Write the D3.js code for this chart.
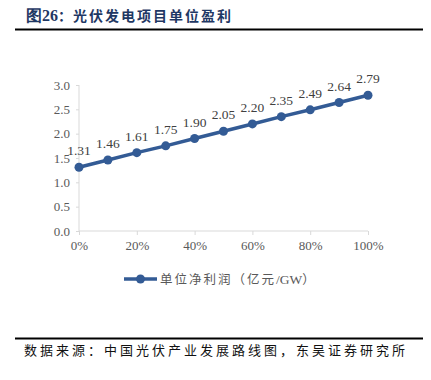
<!DOCTYPE html>
<html>
<head>
<meta charset="utf-8">
<script src="https://cdn.jsdelivr.net/npm/d3@7"></script>
<style>
  body { margin: 0; background: #fff; }
  svg { display: block; }
</style>
</head>
<body>
<div id="chart"></div>
<script>
// data
const shares = [0, 0.1, 0.2, 0.3, 0.4, 0.5, 0.6, 0.7, 0.8, 0.9, 1.0];
const profit = [1.31, 1.46, 1.61, 1.75, 1.90, 2.05, 2.20, 2.35, 2.49, 2.64, 2.79];
const yTicks = [0, 0.5, 1.0, 1.5, 2.0, 2.5, 3.0];
const xTicks = [0, 0.2, 0.4, 0.6, 0.8, 1.0];
const seriesName = '单位净利润（亿元/GW）';
const titleText = '图26：光伏发电项目单位盈利';
const sourceText = '数据来源：中国光伏产业发展路线图，东吴证券研究所';

const W = 431, H = 380;
const colour = '#335b95';
const serif = '"Liberation Serif", "Times New Roman", serif';
const cjk = '"Noto Sans CJK SC", sans-serif';

const svg = d3.select('#chart').append('svg')
    .attr('width', W)
    .attr('height', H);

// title + rules
const title = svg.append('text')
    .attr('x', 26)
    .attr('y', 21)
    .attr('font-weight', 'bold')
    .attr('fill', '#1f3864');
title.append('tspan')
    .attr('font-family', serif)
    .attr('font-size', '16px')
    .text(titleText.slice(0, 3));
title.append('tspan')
    .attr('font-family', cjk)
    .attr('font-size', '14px')
    .text(titleText.slice(3, 4));
title.append('tspan')
    .attr('x', 73)
    .attr('font-family', cjk)
    .attr('font-size', '14px')
    .attr('letter-spacing', '2px')
    .text(titleText.slice(4));

svg.append('line')
    .attr('x1', 15).attr('x2', 423)
    .attr('y1', 29.5).attr('y2', 29.5)
    .attr('stroke', '#000').attr('stroke-width', 2);

svg.append('line')
    .attr('x1', 15).attr('x2', 423)
    .attr('y1', 338.5).attr('y2', 338.5)
    .attr('stroke', '#000').attr('stroke-width', 2);

svg.append('text')
    .attr('x', 24)
    .attr('y', 355)
    .attr('font-family', cjk)
    .attr('font-size', '13px')
    .attr('letter-spacing', '3px')
    .attr('fill', '#111')
    .text(sourceText);

// plot area
const margin = {left: 79, top: 85};
const width = 368 - 79, height = 231 - 85;
const g = svg.append('g')
    .attr('transform', 'translate(' + margin.left + ',' + margin.top + ')');

const x = d3.scaleLinear().domain([0, 1]).range([0, width]);
const y = d3.scaleLinear().domain([0, 3]).range([height, 0]);

const yAxis = g.append('g')
    .call(d3.axisLeft(y).tickValues(yTicks).tickSize(3).tickPadding(6)
      .tickFormat(d3.format('.1f')));
const xAxis = g.append('g')
    .attr('transform', 'translate(0,' + height + ')')
    .call(d3.axisBottom(x).tickValues(xTicks).tickSize(4).tickPadding(6)
      .tickFormat(d3.format('.0%')));

[yAxis, xAxis].forEach(a => {
  a.select('path.domain').attr('stroke', '#d9d9d9');
  a.selectAll('.tick line').attr('stroke', '#d9d9d9');
  a.selectAll('text')
    .attr('font-family', serif)
    .attr('font-size', '13px')
    .attr('fill', '#595959');
});
// outer ticks off
yAxis.select('path.domain').attr('d', 'M0,0V' + height);
xAxis.select('path.domain').attr('d', 'M0,0H' + width);

const line = d3.line()
    .x((d, i) => x(shares[i]))
    .y(d => y(d));

g.append('path')
    .datum(profit)
    .attr('fill', 'none')
    .attr('stroke', colour)
    .attr('stroke-width', 3.5)
    .attr('d', line);

g.selectAll('circle.pt')
    .data(profit)
  .enter().append('circle')
    .attr('class', 'pt')
    .attr('cx', (d, i) => x(shares[i]))
    .attr('cy', d => y(d))
    .attr('r', 4.5)
    .attr('fill', colour);

g.selectAll('text.lbl')
    .data(profit)
  .enter().append('text')
    .attr('class', 'lbl')
    .attr('x', (d, i) => x(shares[i]))
    .attr('y', d => y(d) - 12)
    .attr('text-anchor', 'middle')
    .attr('font-family', serif)
    .attr('font-size', '13.5px')
    .attr('fill', '#404040')
    .text(d => d.toFixed(2));

// legend
const lg = svg.append('g').attr('transform', 'translate(124,279)');
lg.append('line')
    .attr('x1', 0).attr('x2', 33)
    .attr('stroke', colour).attr('stroke-width', 3.5);
lg.append('circle')
    .attr('cx', 16.5).attr('r', 4.5).attr('fill', colour);
const lt = lg.append('text')
    .attr('x', 36)
    .attr('y', 4.5)
    .attr('fill', '#595959');
lt.append('tspan')
    .attr('font-family', cjk)
    .attr('font-size', '12.5px')
    .attr('letter-spacing', '2px')
    .text(seriesName.slice(0, 8));
lt.append('tspan')
    .attr('font-family', serif)
    .attr('font-size', '13.5px')
    .text(seriesName.slice(8, 11));
lt.append('tspan')
    .attr('font-family', cjk)
    .attr('font-size', '12.5px')
    .text(seriesName.slice(11));
</script>
</body>
</html>
